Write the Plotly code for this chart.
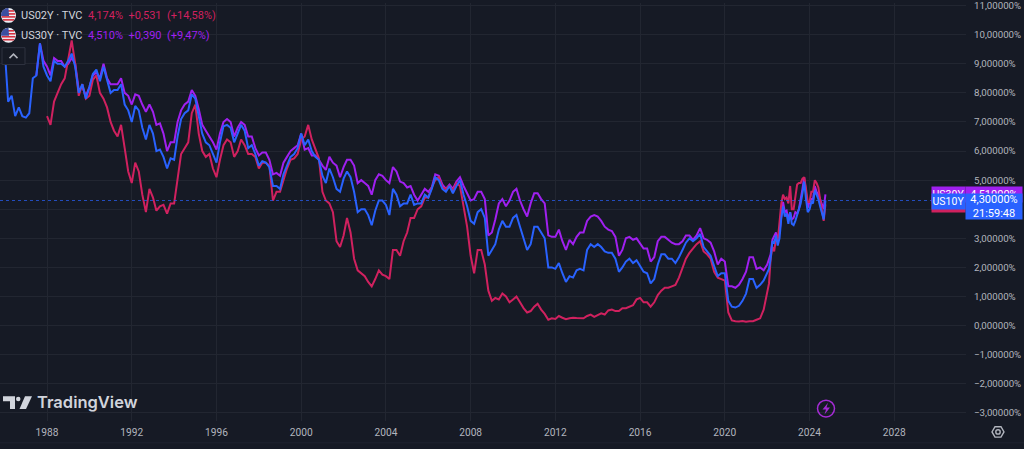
import math
import pandas as pd
import plotly.graph_objects as go

# ---- data (% yield) ----
# bimonthly points Jan..Nov 1986-2021, then monthly Jan 2022 - Oct 2024
dates = (list(pd.date_range("1986-01-01", "2021-11-01", freq="2MS"))
         + list(pd.date_range("2022-01-01", "2024-10-01", freq="MS")))

us10y_2m = [
    9.5, 7.7, 7.9, 7.2, 7.5, 7.2,        # 1986
    7.15, 7.3, 8.5, 8.6, 9.7, 8.9,       # 1987
    8.6, 8.4, 9.1, 9.0, 9.0, 8.9,        # 1988
    9.1, 9.35, 8.9, 8.0, 8.3, 7.8,       # 1989
    8.2, 8.65, 8.8, 8.4, 8.9, 8.4,       # 1990
    8.0, 8.1, 8.1, 8.3, 7.6, 7.4,        # 1991
    7.0, 7.55, 7.4, 6.8, 6.4, 6.9,       # 1992
    6.6, 6.0, 6.05, 5.8, 5.4, 5.75,      # 1993
    5.7, 6.5, 7.1, 7.3, 7.4, 7.95,       # 1994
    7.8, 7.2, 6.6, 6.3, 6.2, 5.9,        # 1995
    5.6, 6.3, 6.85, 6.9, 6.8, 6.3,       # 1996
    6.6, 6.9, 6.7, 6.1, 6.2, 5.9,        # 1997
    5.5, 5.65, 5.6, 5.45, 4.8, 4.8,      # 1998
    4.7, 5.2, 5.5, 5.8, 5.9, 6.1,        # 1999
    6.6, 6.2, 6.4, 6.0, 5.8, 5.7,        # 2000
    5.15, 4.9, 5.4, 5.1, 4.7, 4.6,       # 2001
    5.05, 5.3, 5.1, 4.6, 3.9, 4.0,       # 2002
    4.0, 3.8, 3.45, 3.95, 4.3, 4.3,      # 2003
    4.15, 3.8, 4.7, 4.5, 4.1, 4.2,       # 2004
    4.2, 4.5, 4.15, 4.2, 4.2, 4.5,       # 2005
    4.4, 4.7, 5.1, 5.0, 4.7, 4.6,        # 2006
    4.8, 4.55, 4.8, 5.0, 4.5, 4.1,       # 2007
    3.6, 3.5, 3.9, 4.0, 3.7, 2.4,        # 2008
    2.6, 2.8, 3.3, 3.6, 3.4, 3.4,        # 2009
    3.7, 3.8, 3.4, 3.0, 2.6, 2.8,        # 2010
    3.4, 3.4, 3.2, 3.0, 2.0, 2.0,        # 2011
    1.95, 2.15, 1.8, 1.5, 1.7, 1.65,     # 2012
    1.9, 1.95, 1.9, 2.6, 2.8, 2.7,       # 2013
    2.8, 2.7, 2.55, 2.5, 2.5, 2.3,       # 2014
    1.85, 2.0, 2.2, 2.3, 2.15, 2.25,     # 2015
    2.05, 1.85, 1.8, 1.45, 1.6, 2.1,     # 2016
    2.45, 2.45, 2.3, 2.3, 2.15, 2.35,    # 2017
    2.6, 2.85, 3.0, 2.9, 3.0, 3.15,      # 2018
    2.7, 2.55, 2.4, 2.05, 1.7, 1.8,      # 2019
    1.8, 0.85, 0.65, 0.62, 0.68, 0.85,   # 2020
    1.1, 1.6, 1.6, 1.3, 1.4, 1.55,       # 2021
]
us10y_1m = [
    1.8, 1.95, 2.3, 2.9, 2.85, 3.1, 2.75, 3.0, 3.7, 4.1, 3.75, 3.85,    # 2022
    3.5, 3.9, 3.5, 3.45, 3.6, 3.8, 3.95, 4.2, 4.55, 4.95, 4.35, 3.9,    # 2023
    4.0, 4.25, 4.2, 4.65, 4.5, 4.35, 4.1, 3.9, 3.65, 4.3,               # 2024
]

us02y_2m = [
    7.2, 6.9, 7.7, 8.0, 8.3, 8.5,        # 1988
    9.1, 9.8, 9.0, 7.9, 8.3, 7.8,        # 1989
    7.9, 8.45, 8.6, 8.0, 7.8, 7.5,       # 1990
    7.0, 6.7, 6.5, 6.9, 6.1, 5.3,        # 1991
    4.9, 5.6, 5.3, 4.5, 3.9, 4.7,        # 1992
    4.4, 3.95, 4.1, 4.15, 3.85, 4.2,     # 1993
    4.2, 5.0, 5.9, 6.1, 6.3, 7.3,        # 1994
    7.6, 6.6, 6.0, 5.8, 5.9, 5.4,        # 1995
    5.1, 5.7, 6.2, 6.4, 6.3, 5.8,        # 1996
    6.0, 6.4, 6.2, 5.9, 5.9, 5.8,        # 1997
    5.4, 5.6, 5.6, 5.5, 4.3, 4.6,        # 1998
    4.6, 5.0, 5.4, 5.7, 5.75, 5.9,       # 1999
    6.4, 6.5, 6.9, 6.4, 6.05, 5.75,      # 2000
    4.6, 4.3, 4.2, 3.9, 2.9, 2.7,        # 2001
    3.1, 3.7, 3.2, 2.3, 1.9, 1.8,        # 2002
    1.7, 1.5, 1.35, 1.6, 1.9, 1.75,      # 2003
    1.7, 1.6, 2.6, 2.6, 2.4, 2.9,        # 2004
    3.2, 3.7, 3.7, 4.0, 4.1, 4.4,        # 2005
    4.4, 4.75, 5.0, 5.1, 4.75, 4.7,      # 2006
    4.8, 4.65, 4.9, 4.8, 4.1, 3.4,       # 2007
    2.4, 1.8, 2.6, 2.6, 2.1, 1.2,        # 2008
    0.85, 0.95, 0.9, 1.1, 1.0, 0.8,      # 2009
    0.9, 1.0, 0.8, 0.6, 0.45, 0.5,       # 2010
    0.65, 0.75, 0.55, 0.4, 0.2, 0.25,    # 2011
    0.23, 0.33, 0.27, 0.22, 0.25, 0.27,  # 2012
    0.26, 0.25, 0.25, 0.33, 0.38, 0.3,   # 2013
    0.35, 0.42, 0.38, 0.52, 0.55, 0.5,   # 2014
    0.5, 0.6, 0.6, 0.65, 0.7, 0.9,       # 2015
    0.95, 0.8, 0.8, 0.65, 0.8, 1.05,     # 2016
    1.2, 1.3, 1.3, 1.35, 1.4, 1.65,      # 2017
    2.0, 2.3, 2.5, 2.65, 2.8, 2.9,       # 2018
    2.55, 2.45, 2.3, 1.85, 1.65, 1.6,    # 2019
    1.55, 0.45, 0.18, 0.15, 0.14, 0.16,  # 2020
    0.13, 0.15, 0.15, 0.2, 0.25, 0.55,   # 2021
]
us02y_1m = [
    1.15, 1.45, 2.3, 2.7, 2.55, 3.0, 2.9, 3.45, 4.2, 4.5, 4.35, 4.4,    # 2022
    4.2, 4.8, 4.0, 4.0, 4.4, 4.85, 4.9, 4.9, 5.05, 5.1, 4.7, 4.25,     # 2023
    4.25, 4.6, 4.6, 5.0, 4.9, 4.75, 4.35, 3.9, 3.6, 4.17,              # 2024
]

us30y_2m = [
    8.6, 9.7, 9.1,                       # 1987 (Jul-Nov)
    8.9, 8.6, 9.2, 9.1, 9.1, 8.9,        # 1988
    9.0, 9.2, 9.0, 8.1, 8.2, 7.9,        # 1989
    8.2, 8.6, 8.7, 8.5, 9.0, 8.5,        # 1990
    8.3, 8.3, 8.3, 8.5, 8.0, 7.9,        # 1991
    7.6, 7.95, 7.9, 7.6, 7.35, 7.6,      # 1992
    7.35, 6.9, 6.95, 6.6, 6.0, 6.3,      # 1993
    6.3, 7.0, 7.4, 7.6, 7.7, 8.1,        # 1994
    7.9, 7.45, 6.9, 6.7, 6.5, 6.3,       # 1995
    6.05, 6.6, 7.0, 7.1, 7.0, 6.5,       # 1996
    6.8, 7.0, 6.9, 6.5, 6.5, 6.1,        # 1997
    5.85, 5.95, 5.95, 5.7, 5.2, 5.25,    # 1998
    5.15, 5.6, 5.8, 6.0, 6.1, 6.2,       # 1999
    6.6, 6.05, 6.1, 5.85, 5.85, 5.7,     # 2000
    5.5, 5.35, 5.8, 5.6, 5.5, 5.1,       # 2001
    5.45, 5.7, 5.7, 5.5, 4.9, 5.0,       # 2002
    4.9, 4.8, 4.5, 5.0, 5.2, 5.15,       # 2003
    5.0, 4.9, 5.45, 5.3, 4.95, 4.9,      # 2004
    4.75, 4.8, 4.5, 4.3, 4.5, 4.7,       # 2005
    4.6, 4.75, 5.2, 5.15, 4.85, 4.7,     # 2006
    4.85, 4.7, 4.95, 5.1, 4.8, 4.55,     # 2007
    4.3, 4.35, 4.6, 4.6, 4.35, 3.1,      # 2008
    3.2, 3.65, 4.2, 4.35, 4.1, 4.3,      # 2009
    4.6, 4.7, 4.3, 4.0, 3.75, 4.2,       # 2010
    4.55, 4.55, 4.35, 4.2, 3.1, 3.05,    # 2011
    3.05, 3.3, 2.9, 2.6, 2.95, 2.8,      # 2012
    3.05, 3.2, 3.2, 3.6, 3.75, 3.8,      # 2013
    3.75, 3.6, 3.4, 3.3, 3.25, 3.05,     # 2014
    2.4, 2.6, 3.0, 3.05, 2.95, 3.0,      # 2015
    2.8, 2.65, 2.65, 2.2, 2.35, 2.9,     # 2016
    3.05, 3.05, 2.95, 2.85, 2.8, 2.8,    # 2017
    2.9, 3.1, 3.1, 2.95, 3.1, 3.35,      # 2018
    3.0, 2.95, 2.85, 2.55, 2.1, 2.3,     # 2019
    2.2, 1.35, 1.35, 1.3, 1.4, 1.6,      # 2020
    1.85, 2.35, 2.35, 1.95, 2.0, 1.9,    # 2021
]
us30y_1m = [
    2.1, 2.25, 2.45, 2.95, 3.05, 3.2, 3.0, 3.2, 3.75, 4.25, 3.9, 3.95,  # 2022
    3.65, 3.9, 3.65, 3.7, 3.9, 3.85, 4.0, 4.3, 4.7, 5.1, 4.5, 4.05,    # 2023
    4.25, 4.35, 4.35, 4.8, 4.6, 4.5, 4.35, 4.15, 4.0, 4.51,            # 2024
]

us10y = us10y_2m + us10y_1m
us02y = us02y_2m + us02y_1m
us30y = us30y_2m + us30y_1m

x_ticks = ["1988-01-01", "1992-01-01", "1996-01-01", "2000-01-01", "2004-01-01",
           "2008-01-01", "2012-01-01", "2016-01-01", "2020-01-01", "2024-01-01", "2028-01-01"]
x_labels = ["1988", "1992", "1996", "2000", "2004", "2008", "2012", "2016", "2020", "2024", "2028"]
y_ticks = [-3, -2, -1, 0, 1, 2, 3, 4, 5, 6, 7, 8, 9, 10, 11]
y_labels = ["−3,00000%", "−2,00000%", "−1,00000%", "0,00000%", "1,00000%", "2,00000%",
            "3,00000%", "", "5,00000%", "6,00000%", "7,00000%", "8,00000%",
            "9,00000%", "10,00000%", "11,00000%"]

# ---- styling ----
BG = "#161a25"
GRID = "#222631"
TXT = "#b2b5be"
C02 = "#d0215f"
C10 = "#2962ff"
C30 = "#a020f0"
FONT = "Roboto"

PW, PH = 966, 421  # plot area in pixels


def fx(p):
    return p / PW


def fy(p):
    return 1 - p / PH


fig = go.Figure()
for vals, col in [(us30y, C30), (us02y, C02), (us10y, C10)]:
    fig.add_trace(go.Scatter(x=dates[-len(vals):], y=vals, mode="lines",
                             line=dict(color=col, width=2), hoverinfo="skip"))

shapes = []
annotations = []

# current price line of US10Y
shapes.append(dict(type="line", xref="paper", yref="y", x0=0, x1=1, y0=us10y[-1], y1=us10y[-1],
                   line=dict(color=C10, width=1, dash="dot"), opacity=0.7))


def flag(cx, cy, r):
    out = [dict(type="circle", xref="paper", yref="paper",
                x0=fx(cx - r), x1=fx(cx + r), y0=fy(cy + r), y1=fy(cy - r),
                fillcolor="#eceff5", line=dict(width=0))]
    for dy in [-4.5, -1.5, 1.5, 4.5]:
        half = math.sqrt(r * r - dy * dy) * 0.92
        out.append(dict(type="line", xref="paper", yref="paper",
                        x0=fx(cx - half), x1=fx(cx + half), y0=fy(cy + dy), y1=fy(cy + dy),
                        line=dict(color="#d6303f", width=1.6)))
    pts = [(cx + 0.5, cy + 0.5), (cx - math.sqrt(r * r - 0.25) + 0.3, cy + 0.5)]
    for k in range(9):
        a = math.pi + k * (math.pi / 2) / 8
        pts.append((cx + r * math.cos(a), cy + r * math.sin(a)))
    path = "M " + " L ".join(f"{fx(a):.5f},{fy(b):.5f}" for a, b in pts) + " Z"
    out.append(dict(type="path", xref="paper", yref="paper", path=path,
                    fillcolor="#3c4fa0", line=dict(width=0)))
    return out


shapes += flag(8.5, 12.5, 7.5)
shapes += flag(8.5, 32.5, 7.5)

# legend texts
legend_rows = [(12.5, "US02Y · TVC", "4,174%&nbsp; +0,531&nbsp; (+14,58%)", C02),
               (32.5, "US30Y · TVC", "4,510%&nbsp; +0,390&nbsp; (+9,47%)", C30)]
for yy, name, val, col in legend_rows:
    annotations.append(dict(x=fx(19), y=fy(yy), xref="paper", yref="paper", text=name,
                            showarrow=False, xanchor="left", yanchor="middle",
                            font=dict(family=FONT, size=11, color="#d1d4dc")))
    annotations.append(dict(x=fx(86), y=fy(yy), xref="paper", yref="paper", text=val,
                            showarrow=False, xanchor="left", yanchor="middle",
                            font=dict(family=FONT, size=11, color=col)))

# collapse button
shapes.append(dict(type="rect", xref="paper", yref="paper", x0=fx(2), x1=fx(25), y0=fy(62), y1=fy(45),
                   line=dict(color="#2f3340", width=1), fillcolor=BG))
shapes.append(dict(type="path", xref="paper", yref="paper",
                   path=f"M {fx(9.5)},{fy(55.5)} L {fx(13.5)},{fy(51.5)} L {fx(17.5)},{fy(55.5)}",
                   line=dict(color=TXT, width=1.5)))

# TradingView logo
LOGO = "#d1d4dc"
shapes.append(dict(type="path", xref="paper", yref="paper",
                   path=(f"M {fx(3)},{fy(396)} L {fx(15)},{fy(396)} L {fx(15)},{fy(409)} "
                         f"L {fx(10)},{fy(409)} L {fx(10)},{fy(401)} L {fx(3)},{fy(401)} Z"),
                   fillcolor=LOGO, line=dict(width=0)))
shapes.append(dict(type="circle", xref="paper", yref="paper", x0=fx(16), x1=fx(20.5),
                   y0=fy(401), y1=fy(396.5), fillcolor=LOGO, line=dict(width=0)))
shapes.append(dict(type="path", xref="paper", yref="paper",
                   path=(f"M {fx(25)},{fy(396)} L {fx(32)},{fy(396)} L {fx(26)},{fy(409)} "
                         f"L {fx(19.5)},{fy(409)} Z"),
                   fillcolor=LOGO, line=dict(width=0)))
annotations.append(dict(x=fx(35), y=fy(402), xref="paper", yref="paper", text="TradingView",
                        showarrow=False, xanchor="left", yanchor="middle",
                        font=dict(family="Inter", size=16.5, color=LOGO, weight=600)))

# lightning icon
shapes.append(dict(type="circle", xref="paper", yref="paper", x0=fx(817.5), x1=fx(834.5),
                   y0=fy(417), y1=fy(400), line=dict(color="#a42bd4", width=1.5)))
shapes.append(dict(type="path", xref="paper", yref="paper",
                   path=(f"M {fx(828)},{fy(402.5)} L {fx(822.5)},{fy(409.5)} L {fx(826)},{fy(409.5)} "
                         f"L {fx(824.5)},{fy(414.5)} L {fx(830)},{fy(407.5)} L {fx(826.5)},{fy(407.5)} Z"),
                   fillcolor="#a42bd4", line=dict(width=0)))

# settings gear at bottom right
gx, gy, gr = 998, 432, 6
hexpts = [(gx + gr * math.cos(k * math.pi / 3), gy + gr * math.sin(k * math.pi / 3)) for k in range(6)]
shapes.append(dict(type="path", xref="paper", yref="paper",
                   path="M " + " L ".join(f"{fx(a):.5f},{fy(b):.5f}" for a, b in hexpts) + " Z",
                   line=dict(color=TXT, width=1.4)))
shapes.append(dict(type="circle", xref="paper", yref="paper", x0=fx(gx - 2.2), x1=fx(gx + 2.2),
                   y0=fy(gy + 2.2), y1=fy(gy - 2.2), line=dict(color=TXT, width=1.4)))

# bottom border line
shapes.append(dict(type="line", xref="paper", yref="paper", x0=0, x1=fx(1024), y0=fy(443), y1=fy(443),
                   line=dict(color="#1f2330", width=1)))


def box(cx, cy, w, h, text, bg, size=11):
    return dict(x=fx(cx), y=fy(cy), xref="paper", yref="paper", text=text, showarrow=False,
                xanchor="center", yanchor="middle", width=w, height=h, bgcolor=bg,
                borderpad=0, align="center", valign="middle",
                font=dict(family=FONT, size=size, color="#ffffff"))


# right-hand price labels (stacked, US10Y on top)
annotations.append(box(948.5, 202.5, 33, 15, "US02Y", C02, 10.5))
annotations.append(box(948.5, 193.0, 33, 15, "US30Y", C30, 10.5))
annotations.append(box(994.0, 193.0, 56, 15, "4,51000%", C30))
annotations.append(box(948.5, 199.5, 33, 15, "US10Y", C10, 10.5))
annotations.append(box(994.0, 204.5, 56, 25, "4,30000%<br>21:59:48", C10))

fig.update_layout(
    width=1024, height=449, autosize=False,
    margin=dict(l=0, r=58, t=0, b=28),
    paper_bgcolor=BG, plot_bgcolor=BG,
    showlegend=False, hovermode=False,
    xaxis=dict(type="date", range=["1985-10-12", "2031-05-22"],
               tickmode="array", tickvals=x_ticks, ticktext=x_labels,
               showgrid=True, gridcolor=GRID, gridwidth=1, zeroline=False, showline=False,
               ticks="", ticklabelstandoff=4,
               tickfont=dict(family=FONT, size=10.2, color=TXT)),
    yaxis=dict(side="right", range=[-3.28, 11.09],
               tickmode="array", tickvals=y_ticks, ticktext=y_labels,
               showgrid=True, gridcolor=GRID, gridwidth=1, zeroline=False, showline=False,
               ticks="", ticklabelstandoff=7, ticklabeloverflow="allow",
               tickfont=dict(family=FONT, size=9.7, color=TXT)),
    shapes=shapes,
    annotations=annotations,
)

fig.write_html("out.html", config={"displayModeBar": False},
               post_script="document.body.style.margin='0px'; document.body.style.background='#161a25';")
